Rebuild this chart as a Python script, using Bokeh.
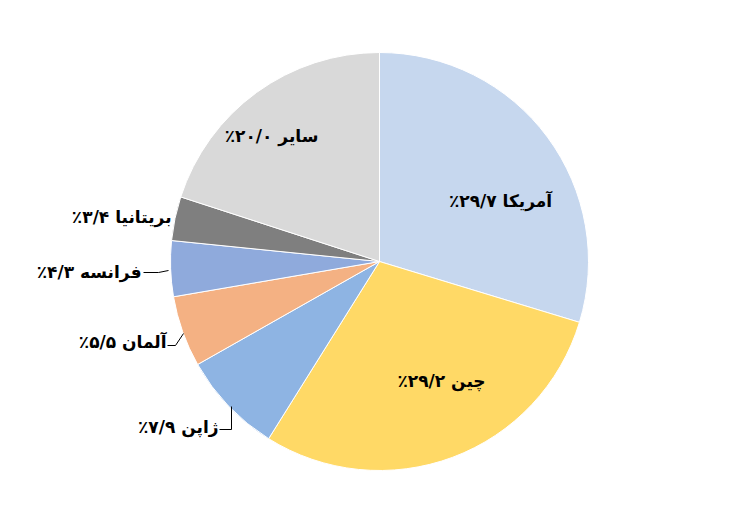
import numpy as np
import pandas as pd
from bokeh.plotting import figure
from bokeh.models import Range1d, ColumnDataSource
from bokeh.core.properties import value
from bokeh.embed import file_html
from bokeh.resources import INLINE

# ---- data ----
countries = ["آمریکا", "چین", "ژاپن", "آلمان", "فرانسه", "بریتانیا", "سایر"]
shares = [29.7, 29.2, 7.9, 5.5, 4.3, 3.4, 20.0]
share_labels = ["۲۹/۷", "۲۹/۲", "۷/۹", "۵/۵", "۴/۳", "۳/۴", "۲۰/۰"]
colors = ["#C6D7EE", "#FFD966", "#8EB4E3", "#F4B183", "#8FAADC", "#7F7F7F", "#D9D9D9"]

# ---- layout (pixel-like data units) ----
W, H = 736, 506
cx, cy, R = 379, 245, 209
label_x = [500, 441, 218, 166, 141, 171, 271]
label_y = [306, 126, 80, 165, 235, 290, 371]
label_align = ["center", "center", "right", "right", "right", "right", "center"]
leaders = [
    ([219, 231, 231], [77, 77, 100]),
    ([167, 175, 183], [161, 161, 173]),
    ([143, 158, 168], [234, 234, 236]),
]

df = pd.DataFrame({"country": countries, "share": shares, "color": colors})
frac = df["share"] / df["share"].sum()
cum = frac.cumsum()
df["end"] = np.pi / 2 - 2 * np.pi * (cum - frac)
df["start"] = np.pi / 2 - 2 * np.pi * cum

p = figure(width=W, height=H, x_range=Range1d(0, W), y_range=Range1d(0, H),
           output_backend="svg", toolbar_location=None, min_border=0)
p.axis.visible = False
p.grid.visible = False
p.outline_line_color = None
p.background_fill_color = "white"

src = ColumnDataSource(df)
p.wedge(x=cx, y=cy, radius=R, start_angle="start", end_angle="end",
        fill_color="color", line_color="white", line_width=1, source=src)

texts = ["\u202b" + c + " " + s + "٪" + "\u202c" for c, s in zip(countries, share_labels)]
for t, x, y, a in zip(texts, label_x, label_y, label_align):
    p.text(x=[x], y=[y], text=[t], text_align=a, text_baseline="middle",
           text_font=value("DejaVu Sans"), text_font_style="bold",
           text_font_size="17px", text_color="black")

for xs, ys in leaders:
    p.line(xs, ys, line_color="black", line_width=1)

open("out.html", "w").write(file_html(p, INLINE))
